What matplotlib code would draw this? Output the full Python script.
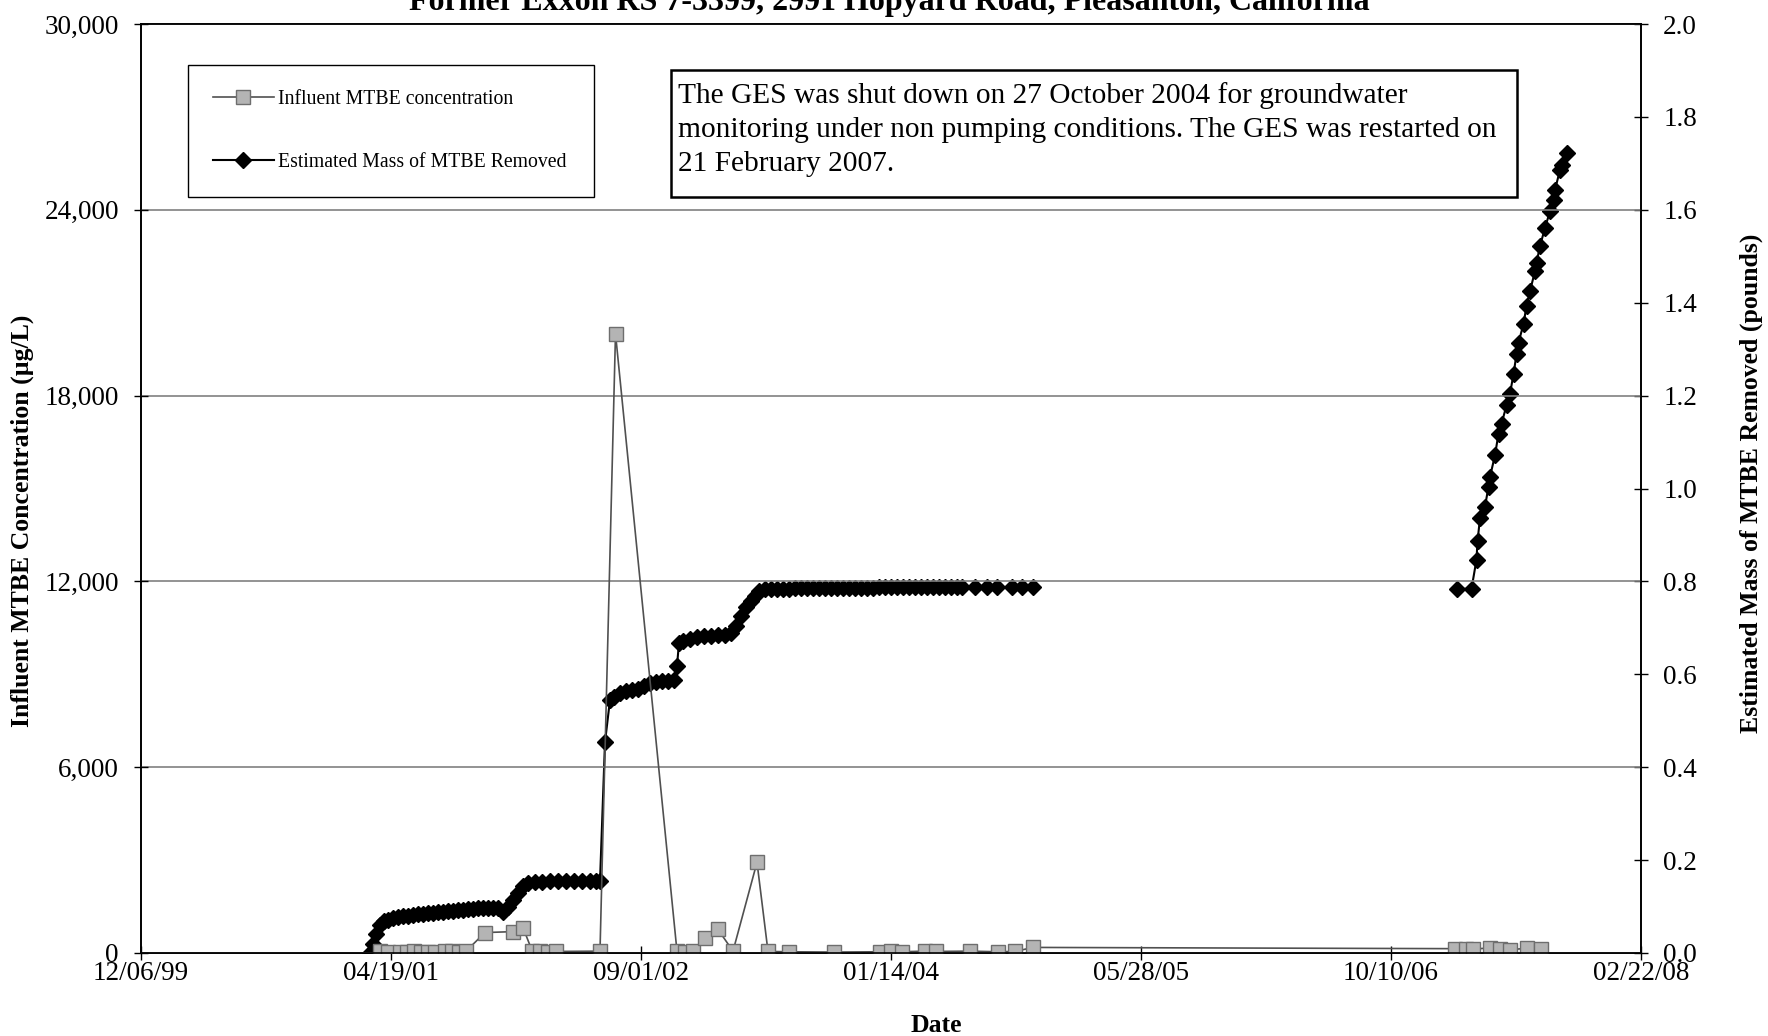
import numpy as np
import pandas as pd
from matplotlib import pyplot as plt
from matplotlib.patches import Rectangle
import matplotlib.dates as mdates
from matplotlib.ticker import FuncFormatter

plt.rcParams['font.family'] = ['Liberation Serif', 'DejaVu Serif']

# dates are Excel serial numbers (days since 1899-12-30)
conc_dates = [36978, 36994, 37018, 37032, 37046, 37060, 37074, 37088, 37108, 37122,
              37136, 37150, 37188, 37244, 37264, 37282, 37298, 37314, 37330, 37418,
              37449, 37572, 37588, 37604, 37628, 37654, 37684, 37732, 37754, 37796,
              37886, 37978, 38000, 38022, 38068, 38090, 38158, 38214, 38248, 38284,
              39128, 39150, 39164, 39198, 39218, 39238, 39272, 39300]
conc_values = [50, 40, 30, 40, 50, 40, 30, 40, 60, 50,
               40, 60, 660, 690, 820, 80, 50, 40, 50, 60,
               20000, 50, 40, 60, 500, 760, 60, 2930, 50, 40,
               30, 40, 50, 40, 60, 50, 60, 40, 50, 180,
               140, 120, 130, 160, 140, 110, 150, 120]

mass_dates_1 = [36958, 36964, 36970, 36978, 36986, 36994, 37004, 37014, 37024, 37034,
                37044, 37054, 37064, 37074, 37084, 37094, 37104, 37114, 37124, 37134,
                37144, 37154, 37164, 37174, 37184, 37194, 37204, 37214, 37224, 37234,
                37244, 37254, 37264, 37274, 37288, 37302, 37318, 37334, 37350, 37366,
                37382, 37398, 37410, 37418, 37428, 37438, 37446, 37458, 37470, 37482,
                37494, 37506, 37518, 37530, 37542, 37554, 37566, 37572, 37576, 37584,
                37598, 37612, 37626, 37640, 37654, 37668, 37680, 37690, 37700, 37710,
                37720, 37728, 37736, 37748, 37760, 37772, 37784, 37796, 37808, 37820,
                37832, 37844, 37856, 37868, 37880, 37892, 37904, 37916, 37928, 37940,
                37952, 37964, 37976, 37988, 38000, 38012, 38024, 38036, 38048, 38060,
                38072, 38084, 38096, 38108, 38120, 38132, 38142, 38168, 38192, 38212,
                38242, 38262, 38284]
mass_values_1 = [0.0, 0.02, 0.04, 0.06, 0.068, 0.072, 0.075, 0.077, 0.079, 0.080,
                 0.082, 0.083, 0.085, 0.086, 0.087, 0.088, 0.089, 0.090, 0.091, 0.092,
                 0.093, 0.094, 0.095, 0.096, 0.096, 0.097, 0.097, 0.097, 0.088, 0.100,
                 0.115, 0.130, 0.145, 0.151, 0.152, 0.153, 0.154, 0.154, 0.155, 0.155,
                 0.155, 0.155, 0.155, 0.155, 0.454, 0.545, 0.552, 0.560, 0.565, 0.567,
                 0.568, 0.575, 0.582, 0.584, 0.585, 0.586, 0.587, 0.618, 0.668, 0.672,
                 0.677, 0.680, 0.682, 0.683, 0.684, 0.685, 0.688, 0.705, 0.725, 0.745,
                 0.758, 0.768, 0.780, 0.783, 0.783, 0.784, 0.784, 0.784, 0.785, 0.785,
                 0.785, 0.785, 0.785, 0.786, 0.786, 0.786, 0.786, 0.786, 0.786, 0.786,
                 0.786, 0.786, 0.787, 0.787, 0.787, 0.787, 0.787, 0.787, 0.787, 0.787,
                 0.787, 0.787, 0.787, 0.787, 0.787, 0.787, 0.787, 0.787, 0.787, 0.787,
                 0.787, 0.787, 0.787]

mass_dates_2 = [39131, 39161, 39171, 39173, 39178, 39188, 39195, 39198, 39208, 39215,
                39221, 39231, 39238, 39245, 39251, 39255, 39265, 39271, 39278, 39288,
                39291, 39298, 39308, 39318, 39325, 39328, 39338, 39341, 39351]
mass_values_2 = [0.784, 0.784, 0.847, 0.886, 0.936, 0.961, 1.004, 1.025, 1.072, 1.118,
                 1.139, 1.179, 1.204, 1.246, 1.289, 1.314, 1.354, 1.393, 1.425, 1.468,
                 1.486, 1.522, 1.561, 1.597, 1.622, 1.643, 1.686, 1.697, 1.722]

x_ticks = [36500, 37000, 37500, 38000, 38500, 39000, 39500]


def to_date(serials):
    return pd.to_datetime(np.array(serials), unit='D', origin='1899-12-30')


fig = plt.figure(figsize=(17.68, 10.36), dpi=100)
ax = fig.add_axes([141 / 1768, 1 - 953 / 1036, 1500 / 1768, 929 / 1036])
ax2 = ax.twinx()

ax.set_zorder(ax2.get_zorder() + 1)
ax.patch.set_visible(False)

line_conc, = ax.plot(to_date(conc_dates), conc_values, color='#505050', linewidth=1.2,
                     marker='s', markersize=10, markerfacecolor='#b4b4b4',
                     markeredgecolor='#6e6e6e', markeredgewidth=1.0,
                     label='Influent MTBE concentration')
line_mass, = ax2.plot(to_date(mass_dates_1), mass_values_1, color='black', linewidth=1.5,
                      marker='D', markersize=8.5, label='Estimated Mass of MTBE Removed')
ax2.plot(to_date(mass_dates_2), mass_values_2, color='black', linewidth=1.5,
         marker='D', markersize=8.5)

ax.set_xlim(to_date([36500])[0], to_date([39500])[0])
ax.set_xticks(to_date(x_ticks))
ax.xaxis.set_major_formatter(mdates.DateFormatter('%m/%d/%y'))

ax.set_ylim(0, 30000)
ax.set_yticks(np.arange(0, 30001, 6000))
ax.yaxis.set_major_formatter(FuncFormatter(lambda v, p: '{:,.0f}'.format(v)))
ax2.set_ylim(0, 2.0)
ax2.set_yticks(np.arange(0, 2.01, 0.2))
ax2.yaxis.set_major_formatter(FuncFormatter(lambda v, p: '{:.1f}'.format(v)))

ax.grid(axis='y', color='#808080', linewidth=1.2)
ax.set_axisbelow(True)

for a in (ax, ax2):
    a.tick_params(labelsize=19.5, direction='inout', length=10, width=1)
    for s in a.spines.values():
        s.set_color('black')
        s.set_linewidth(1.2)
ax.tick_params(axis='y', pad=11)
ax2.tick_params(axis='y', pad=11)
ax.tick_params(axis='x', pad=1)

ax.set_xlabel('Date', fontsize=18.5, fontweight='bold')
ax.set_ylabel('Influent MTBE Concentration (\u00b5g/L)', fontsize=18.5, fontweight='bold')
ax2.set_ylabel('Estimated Mass of MTBE Removed (pounds)', fontsize=18.5, fontweight='bold')
ax.xaxis.set_label_coords(0.53, -0.066)
ax.yaxis.set_label_coords(-0.071, 0.465)
ax2.yaxis.set_label_coords(1.066, 0.506)

fig.text(0.503, 1 - 10 / 1036, 'Former Exxon RS 7-3399, 2991 Hopyard Road, Pleasanton, California',
         ha='center', va='baseline', fontsize=23, fontweight='bold')

leg_w = 406 / 1500
leg = ax.legend([line_conc, line_mass],
                ['Influent MTBE concentration', 'Estimated Mass of MTBE Removed'],
                loc='upper left', bbox_to_anchor=(0.0313, 0.956 - 0.2, leg_w, 0.2),
                mode='expand', borderaxespad=0, fontsize=14.2,
                labelspacing=2.25, handlelength=3.1, borderpad=1.25, handletextpad=0.2,
                fancybox=False, framealpha=1, edgecolor='black')
leg.get_frame().set_linewidth(1.0)

# note box
ax.add_patch(Rectangle((0.3533, 0.8138), 0.9173 - 0.3533, 0.9505 - 0.8138,
                       transform=ax.transAxes, facecolor='white', edgecolor='black',
                       linewidth=1.8, zorder=5))
ax.text(0.358, 0.9377,
        'The GES was shut down on 27 October 2004 for groundwater\n'
        'monitoring under non pumping conditions. The GES was restarted on\n'
        '21 February 2007.',
        transform=ax.transAxes, ha='left', va='top', fontsize=21.2, linespacing=1.4,
        zorder=6)

fig.savefig('out.png', dpi=100)
